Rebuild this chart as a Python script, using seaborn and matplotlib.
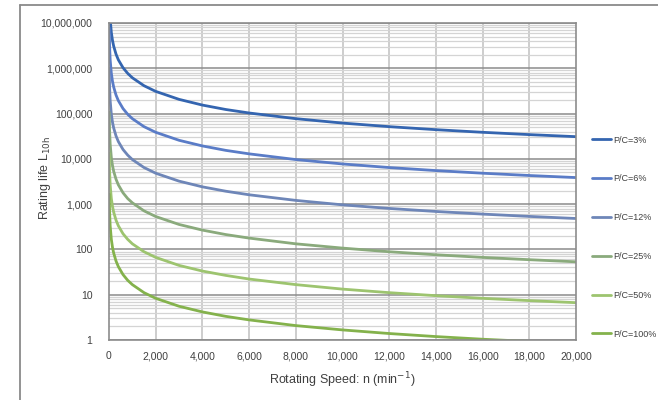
import matplotlib
matplotlib.use("Agg")
import matplotlib.pyplot as plt
from matplotlib.lines import Line2D
from matplotlib.ticker import FixedLocator, LogLocator, NullFormatter, FuncFormatter
import seaborn as sns
import pandas as pd

# Rotating speed n (min^-1)
speed = [10, 25, 50, 100, 150, 200, 300, 400, 600, 800, 1000, 1500, 2000, 3000,
         4000, 5000, 6000, 8000, 10000, 12000, 14000, 16000, 18000, 20000]

# Rating life L10h (hours) for each load ratio P/C
life_3 = [61700000, 24700000, 12300000, 6170000, 4120000, 3090000, 2060000, 1540000,
          1030000, 772000, 617000, 412000, 309000, 206000, 154000, 123000, 103000,
          77200, 61700, 51400, 44100, 38600, 34300, 30900]
life_6 = [7720000, 3090000, 1540000, 772000, 514000, 386000, 257000, 193000,
          129000, 96500, 77200, 51400, 38600, 25700, 19300, 15400, 12900,
          9650, 7720, 6430, 5510, 4820, 4290, 3860]
life_12 = [965000, 386000, 193000, 96500, 64300, 48200, 32200, 24100,
           16100, 12100, 9650, 6430, 4820, 3220, 2410, 1930, 1610,
           1210, 965, 804, 689, 603, 536, 482]
life_25 = [107000, 42700, 21300, 10700, 7110, 5330, 3560, 2670,
           1780, 1330, 1070, 711, 533, 356, 267, 213, 178,
           133, 107, 88.9, 76.2, 66.7, 59.3, 53.3]
life_50 = [13300, 5330, 2670, 1330, 889, 667, 444, 333,
           222, 167, 133, 88.9, 66.7, 44.4, 33.3, 26.7, 22.2,
           16.7, 13.3, 11.1, 9.52, 8.33, 7.41, 6.67]
life_100 = [1670, 667, 333, 167, 111, 83.3, 55.6, 41.7,
            27.8, 20.8, 16.7, 11.1, 8.33, 5.56, 4.17, 3.33, 2.78,
            2.08, 1.67, 1.39, 1.19, 1.04, 0.93, 0.83]

series_names = ["P/C=3%", "P/C=6%", "P/C=12%", "P/C=25%", "P/C=50%", "P/C=100%"]
series_values = [life_3, life_6, life_12, life_25, life_50, life_100]
colors = ["#3465B0", "#5A7CC7", "#6E86B8", "#8AAA7C", "#9DC46F", "#84B24C"]

x_ticks = list(range(0, 20001, 2000))

rows = []
for name, vals in zip(series_names, series_values):
    for n, v in zip(speed, vals):
        rows.append({"speed": n, "life": v, "series": name})
df = pd.DataFrame(rows)

sns.set_theme(style="white")
plt.rcParams["font.family"] = ["Liberation Sans", "DejaVu Sans"]

fig = plt.figure(figsize=(6.58, 4.0), dpi=100)
ax = fig.add_axes([109 / 658, 60 / 400, (576 - 109) / 658, (340 - 23) / 400])

sns.lineplot(data=df, x="speed", y="life", hue="series", hue_order=series_names,
             palette=colors, linewidth=2.0, ax=ax, legend=False, sort=False)

ax.set_yscale("log")
ax.set_ylim(1, 1e7)
ax.set_xlim(0, 20000)

ax.xaxis.set_major_locator(FixedLocator(x_ticks))
ax.xaxis.set_major_formatter(FuncFormatter(lambda v, p: f"{int(v):,}"))
ax.yaxis.set_major_locator(LogLocator(base=10, numticks=10))
ax.yaxis.set_minor_locator(LogLocator(base=10, subs=range(2, 10), numticks=100))
ax.yaxis.set_minor_formatter(NullFormatter())
ax.yaxis.set_major_formatter(FuncFormatter(lambda v, p: f"{int(round(v)):,}"))

# grid
ax.grid(False)
ax.set_axisbelow(True)
for xv in x_ticks[1:-1]:
    ax.axvline(xv, color="#c9c9c9", lw=1.3, zorder=0)
ax.yaxis.grid(True, which="minor", color="#d4d4d4", lw=0.9, zorder=0)
ax.yaxis.grid(True, which="major", color="#8c8c8c", lw=1.1, zorder=0)

for s in ax.spines.values():
    s.set_visible(True)
    s.set_color("#8c8c8c")
    s.set_linewidth(1.2)

ax.tick_params(axis="both", which="major", length=3, width=1, color="#8c8c8c",
               labelsize=7.5, labelcolor="#404040", direction="out")
ax.tick_params(axis="x", pad=5)
ax.tick_params(axis="y", pad=9)
ax.tick_params(axis="y", which="minor", length=0)

ax.set_xlabel("Rotating Speed: n (min$^{-1}$)", fontsize=9, color="#404040")
ax.set_ylabel(r"Rating life L$_{\mathrm{10h}}$", fontsize=9, color="#404040")
ax.xaxis.set_label_coords((342 - 109) / (576 - 109), -(380 - 340) / (340 - 23))
ax.yaxis.set_label_coords(-(109 - 45) / (576 - 109), (340 - 178) / (340 - 23))
ax.xaxis.label.set_va("center")
ax.yaxis.label.set_va("center")

# legend on the right
handles = [Line2D([], [], color=c, lw=2.0) for c in colors]
fig.legend(handles, series_names, loc="upper left",
           bbox_to_anchor=(588 / 658, 1 - 132 / 400), frameon=False,
           fontsize=6.5, handlelength=2.2, handletextpad=0.2,
           labelspacing=3.3, borderaxespad=0, labelcolor="#404040")

# chart area border
fig.add_artist(Line2D([20 / 658, 1], [1 - 5 / 400, 1 - 5 / 400], color="#8a8a8a", lw=1.3,
                      transform=fig.transFigure))
fig.add_artist(Line2D([20 / 658, 20 / 658], [0, 1 - 5 / 400], color="#8a8a8a", lw=1.3,
                      transform=fig.transFigure))

fig.savefig("out.png", dpi=100)
